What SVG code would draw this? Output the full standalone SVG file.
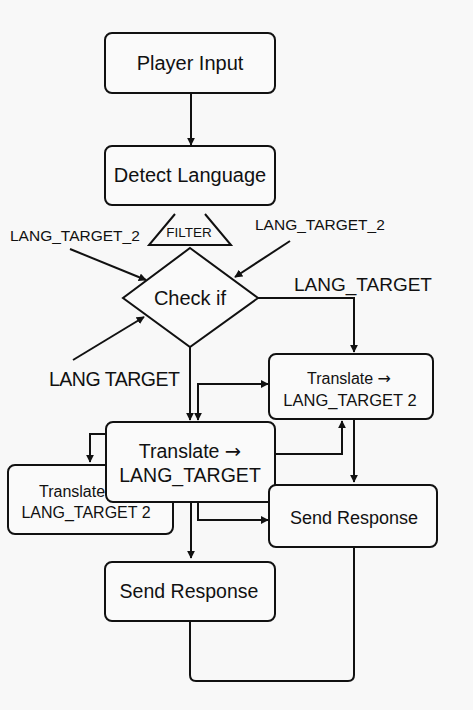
<svg xmlns="http://www.w3.org/2000/svg" width="473" height="710" viewBox="0 0 473 710">
<defs>
<marker id="ah" viewBox="0 0 10 10" refX="9" refY="5" markerWidth="8" markerHeight="8" markerUnits="userSpaceOnUse" orient="auto-start-reverse">
<path d="M0,0 L10,5 L0,10 z" fill="#111"/>
</marker>
<style>
.box{fill:#fafafa;stroke:#111;stroke-width:2}
.ln{fill:none;stroke:#111;stroke-width:2}
.t{font-family:"Liberation Sans",Arial,sans-serif;fill:#111;text-anchor:middle}
.l{font-family:"Liberation Sans",Arial,sans-serif;fill:#111}
.ar{font-family:"DejaVu Sans",sans-serif}
</style>
</defs>
<rect width="473" height="710" fill="#f8f8f8"/>

<g id="connectors">
<path class="ln" d="M191,93 V145" marker-end="url(#ah)"/>
<path class="ln" d="M70,249 L146,280" marker-end="url(#ah)"/>
<path class="ln" d="M290,241 L235,277" marker-end="url(#ah)"/>
<path class="ln" d="M73,360 L144,317" marker-end="url(#ah)"/>
<path class="ln" d="M258,298 H354 V352" marker-end="url(#ah)"/>
<path class="ln" d="M190,347 V420" marker-end="url(#ah)"/>
<path class="ln" d="M198,420 V384 H268" marker-start="url(#ah)" marker-end="url(#ah)"/>
<path class="ln" d="M106,434 H90 V462" marker-end="url(#ah)"/>
<path class="ln" d="M275,454 H342 V421" marker-end="url(#ah)"/>
<path class="ln" d="M354,419 V482" marker-end="url(#ah)"/>
<path class="ln" d="M198,502 V520 H268" marker-end="url(#ah)"/>
<path class="ln" d="M191,502 V558" marker-end="url(#ah)"/>
<path class="ln" d="M190,621 V675 Q190,681 196,681 H348 Q354,681 354,675 V547"/>
</g>

<g id="player-input">
<rect class="box" x="105" y="33" width="170" height="60" rx="7"/>
<text class="t" x="190" y="70" font-size="20">Player Input</text>
</g>

<g id="detect-language">
<rect class="box" x="105" y="146" width="170" height="59" rx="7"/>
<text class="t" x="190" y="182" font-size="20">Detect Language</text>
</g>

<g id="filter">
<path class="ln" d="M175,214 L149,245 H231 L205,214"/>
<text class="t" x="189" y="237" font-size="13.5">FILTER</text>
</g>

<g id="labels">
<text class="l" x="10" y="241" font-size="15.5">LANG_TARGET_2</text>
<text class="l" x="255" y="230" font-size="15.5">LANG_TARGET_2</text>
<text class="l" x="294" y="291" font-size="19">LANG_TARGET</text>
<text class="l" x="49" y="386" font-size="19.5" letter-spacing="-0.5">LANG TARGET</text>
</g>

<g id="check-if">
<path class="box" d="M190,248 L258,298 L190,347 L123,298 Z"/>
<text class="t" x="190" y="305" font-size="20">Check if</text>
</g>

<g id="translate-target2-right">
<rect class="box" x="269" y="354" width="164" height="65" rx="7"/>
<text class="t" x="349" y="384" font-size="16">Translate <tspan class="ar">→</tspan></text>
<text class="t" x="350" y="406" font-size="16.5">LANG_TARGET 2</text>
</g>

<g id="translate-target2-left">
<rect class="box" x="8" y="465" width="165" height="69" rx="7"/>
<text class="l" x="39" y="497" font-size="16">Translate</text>
<text class="t" x="86" y="518" font-size="16">LANG_TARGET 2</text>
</g>

<g id="translate-target">
<rect class="box" x="106" y="422" width="169" height="80" rx="7"/>
<text class="t" x="190" y="458" font-size="19.5">Translate <tspan class="ar">→</tspan></text>
<text class="t" x="190" y="482" font-size="19.5">LANG_TARGET</text>
</g>

<g id="send-response-right">
<rect class="box" x="269" y="485" width="168" height="62" rx="7"/>
<text class="t" x="354" y="524" font-size="18">Send Response</text>
</g>

<g id="send-response-bottom">
<rect class="box" x="105" y="562" width="170" height="59" rx="7"/>
<text class="t" x="189" y="598" font-size="19.5">Send Response</text>
</g>
</svg>
